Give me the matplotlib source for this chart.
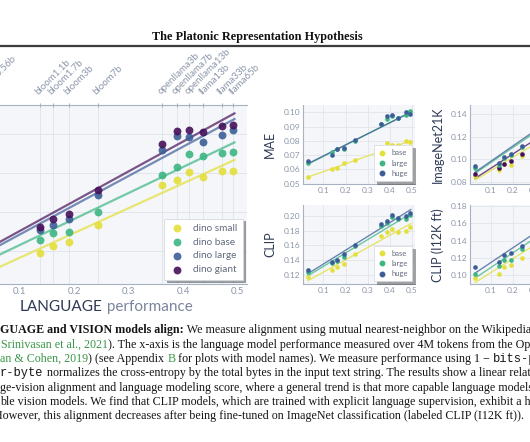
import numpy as np
import matplotlib
import matplotlib.pyplot as plt
from matplotlib.lines import Line2D
from matplotlib.text import Annotation

matplotlib.use('Agg')

W, H = 530, 442

# language models along the x axis (language performance)
lm_names = ['bloom0.56b', 'bloom1.1b', 'bloom1.7b', 'bloom3b', 'bloom7b',
            'openllama3b', 'openllama7b', 'openllama13b', 'llama13b', 'llama33b', 'llama65b']
lm_score = [0.03, 0.137, 0.161, 0.191, 0.243, 0.362, 0.388, 0.411, 0.437, 0.471, 0.492]
x_ticks = [0.1, 0.2, 0.3, 0.4, 0.5]

# trend lines are read at these two x positions
fit_x = [0.03, 0.494]

# big plot: dino alignment
dino_labels = ['dino small', 'dino base', 'dino large', 'dino giant']
dino_small = [0.090, 0.0991, 0.1026, 0.1046, 0.1132, 0.1337, 0.1366, 0.1404, 0.1381, 0.1412, 0.1409]
dino_base = [0.096, 0.1056, 0.1091, 0.1099, 0.1200, 0.1391, 0.1432, 0.1496, 0.1487, 0.1504, 0.1508]
dino_large = [0.100, 0.1108, 0.1133, 0.1163, 0.1287, 0.1518, 0.1588, 0.1586, 0.1559, 0.1596, 0.1622]
dino_giant = [0.102, 0.1122, 0.1164, 0.1188, 0.1313, 0.1550, 0.1617, 0.1621, 0.1609, 0.1643, 0.1646]
dino_small_fit = [0.0876, 0.1467]
dino_base_fit = [0.0937, 0.1557]
dino_large_fit = [0.0979, 0.1677]
dino_giant_fit = [0.0995, 0.1706]

# MAE
mae_base = [0.0550, 0.0601, 0.0613, 0.0643, 0.0664, 0.0745, 0.0787, 0.0771, 0.0769, 0.0800, 0.0792]
mae_large = [0.0645, 0.0724, 0.0740, 0.0745, 0.0800, 0.0915, 0.0951, 0.0975, 0.0960, 0.0983, 0.1009]
mae_huge = [0.0657, 0.0703, 0.0743, 0.0748, 0.0804, 0.0920, 0.0972, 0.0983, 0.0962, 0.1000, 0.0986]
mae_base_fit = [0.0546, 0.0801]
mae_large_fit = [0.0636, 0.1002]
mae_huge_fit = [0.0640, 0.1000]

# CLIP
clip_base = [0.1169, 0.1264, 0.1313, 0.1349, 0.1481, 0.1733, 0.1779, 0.1828, 0.1787, 0.1801, 0.1848]
clip_large = [0.1237, 0.1359, 0.1390, 0.1440, 0.1590, 0.1860, 0.1910, 0.1982, 0.1960, 0.1960, 0.2014]
clip_huge = [0.1268, 0.1376, 0.1403, 0.1485, 0.1607, 0.1892, 0.1936, 0.2018, 0.1977, 0.2004, 0.2045]
clip_base_fit = [0.1122, 0.1897]
clip_large_fit = [0.1189, 0.2033]
clip_huge_fit = [0.1217, 0.2087]

# ImageNet21K
in21k_tiny = [0.085, 0.090, 0.096, 0.095, 0.103, 0.118, 0.121, 0.124, 0.127, 0.130, 0.132]
in21k_small = [0.092, 0.095, 0.101, 0.104, 0.111, 0.129, 0.133, 0.136, 0.139, 0.143, 0.145]
in21k_base = [0.094, 0.097, 0.102, 0.105, 0.112, 0.131, 0.135, 0.138, 0.141, 0.145, 0.147]
in21k_large = [0.087, 0.092, 0.096, 0.098, 0.105, 0.122, 0.126, 0.128, 0.131, 0.135, 0.137]
in21k_tiny_fit = [0.0815, 0.1367]
in21k_small_fit = [0.0875, 0.150]
in21k_base_fit = [0.0885, 0.152]
in21k_large_fit = [0.083, 0.142]

# CLIP (I12K ft)
ft_base = [0.097, 0.1015, 0.1095, 0.1115, 0.1195, 0.145, 0.149, 0.152, 0.155, 0.160, 0.163]
ft_large = [0.102, 0.111, 0.118, 0.118, 0.1305, 0.154, 0.158, 0.161, 0.165, 0.170, 0.173]
ft_huge = [0.109, 0.115, 0.123, 0.126, 0.134, 0.160, 0.164, 0.167, 0.171, 0.176, 0.179]
ft_base_fit = [0.0917, 0.1664]
ft_large_fit = [0.0968, 0.176]
ft_huge_fit = [0.1025, 0.182]

YELLOW = '#e4df3a'
GREEN = '#3db682'
BLUE = '#3c5e98'
PURPLE = '#46105a'
BG = '#f4f6f9'
GRID = '#e1e5ec'
SPINE = '#a9b2c3'
TICK = '#8c96aa'
NAVY = '#2f3a56'

plt.rcParams['font.family'] = 'Lato'

fig = plt.figure(figsize=(W / 100, H / 100), dpi=100)


def px_axes(l, t, r, b):
    return fig.add_axes([l / W, 1 - b / H, (r - l) / W, (b - t) / H])


def style(ax, size):
    ax.set_facecolor(BG)
    ax.set_axisbelow(True)
    for s in ['top', 'right']:
        ax.spines[s].set_visible(False)
    for s in ['left', 'bottom']:
        ax.spines[s].set_color(SPINE)
        ax.spines[s].set_linewidth(0.8)
    ax.tick_params(length=0, labelsize=size, labelcolor=TICK, pad=2)
    ax.grid(True, color=GRID, lw=0.6)


def chain(first, pieces):
    # put each text piece right after the previous one
    prev = first
    for txt, kw in pieces:
        ann = Annotation(txt, xy=(1, 0), xycoords=prev, va='bottom', ha='left', **kw)
        fig.add_artist(ann)
        prev = ann
    return prev


# ---- big plot ----
ax = px_axes(-35, 105, 247, 284)
style(ax, 7)
ax.grid(False)
ax.set_xlim(0, 0.517)
ax.set_ylim(0.0831, 0.1749)
ax.set_xticks(x_ticks)
ax.set_xticklabels([str(t) for t in x_ticks])
ax.set_yticks([0.10, 0.12, 0.14, 0.16])
ax.tick_params(axis='y', labelleft=False)
ax.set_xticks(lm_score, minor=True)
ax.tick_params(which='minor', length=0)
ax.grid(True, axis='y', color=GRID, lw=0.7)
ax.grid(True, axis='x', which='minor', color=GRID, lw=0.7)
ax.spines['top'].set_visible(True)
ax.spines['top'].set_color(SPINE)
ax.spines['left'].set_visible(False)

for vals, fit, col, lab in zip([dino_small, dino_base, dino_large, dino_giant],
                               [dino_small_fit, dino_base_fit, dino_large_fit, dino_giant_fit],
                               [YELLOW, GREEN, BLUE, PURPLE], dino_labels):
    ax.plot(fit_x, fit, color=col, lw=1.6, alpha=0.7, zorder=2)
    ax.scatter(lm_score, vals, s=32, color=col, alpha=0.9, lw=0, label=lab, zorder=3)

leg = ax.legend(loc='lower right', fontsize=7.2, labelcolor='#626b7e', frameon=True,
                fancybox=False, shadow=True, borderpad=0.5, labelspacing=0.5,
                handletextpad=0.8, borderaxespad=0.45, handlelength=1.6)
leg.get_frame().set_edgecolor('#d3d8e0')
leg.get_frame().set_linewidth(0.6)

top = ax.twiny()
top.set_xlim(ax.get_xlim())
top.set_xticks(lm_score)
top.set_xticklabels(lm_names, rotation=45, ha='left', rotation_mode='anchor')
top.tick_params(axis='x', length=3, direction='inout', color=SPINE, labelsize=7,
                labelcolor=TICK, pad=5)
for s in top.spines.values():
    s.set_visible(False)

lang = fig.text(20 / W, 1 - 311 / H, 'LANGUAGE', fontsize=11, color=NAVY, va='baseline', ha='left')
chain(lang, [(' performance', dict(fontsize=11, color='#7a849c'))])


# ---- small plots ----
def small(l, t, r, b, ylim, yticks, ylabel, series, fits, colors):
    a = px_axes(l, t, r, b)
    style(a, 6)
    a.set_xlim(0.007, 0.513)
    a.set_ylim(*ylim)
    a.set_xticks(x_ticks)
    a.set_yticks(yticks)
    a.set_yticklabels(['%.2f' % v for v in yticks])
    a.set_ylabel(ylabel, fontsize=9, color=NAVY, labelpad=5)
    for vals, fit, col in zip(series, fits, colors):
        a.plot(fit_x, fit, color=col, lw=1.0, alpha=0.75, zorder=2)
        a.scatter(lm_score, vals, s=11, color=col, lw=0, zorder=3)
    return a


ax_mae = small(302.7, 105, 415, 184, (0.0498, 0.1051), [0.05, 0.06, 0.07, 0.08, 0.09, 0.10], 'MAE',
               [mae_large, mae_huge, mae_base], [mae_large_fit, mae_huge_fit, mae_base_fit],
               [GREEN, BLUE, YELLOW])
ax_clip = small(302.7, 205, 415, 284.3, (0.1074, 0.2149), [0.12, 0.14, 0.16, 0.18, 0.20], 'CLIP',
                [clip_base, clip_large, clip_huge], [clip_base_fit, clip_large_fit, clip_huge_fit],
                [YELLOW, GREEN, BLUE])
small(470, 105, 582.3, 184, (0.078, 0.1482), [0.08, 0.10, 0.12, 0.14], 'ImageNet21K',
      [in21k_tiny, in21k_large, in21k_small, in21k_base],
      [in21k_tiny_fit, in21k_large_fit, in21k_small_fit, in21k_base_fit],
      [YELLOW, PURPLE, GREEN, BLUE])
small(470, 205, 582.3, 284.3, (0.0896, 0.181), [0.10, 0.12, 0.14, 0.16, 0.18], 'CLIP (I12K ft)',
      [ft_base, ft_large, ft_huge], [ft_base_fit, ft_large_fit, ft_huge_fit],
      [YELLOW, GREEN, BLUE])

# legends of the two left small plots (base / large / huge)
for a in [ax_mae, ax_clip]:
    hs = [Line2D([], [], ls='', marker='o', ms=3.2, color=c) for c in [YELLOW, GREEN, BLUE]]
    lg = a.legend(hs, ['base', 'large', 'huge'], loc='lower right', fontsize=5.5,
                  labelcolor='#626b7e', frameon=True, fancybox=False, shadow=True,
                  borderpad=0.5, labelspacing=0.45, handletextpad=0.6, borderaxespad=0.4,
                  handlelength=1.2)
    lg.get_frame().set_edgecolor('#d3d8e0')
    lg.get_frame().set_linewidth(0.5)

# ---- page header ----
fig.text(257 / W, 1 - 37 / H, 'The Platonic Representation Hypothesis', family='Liberation Serif',
         weight='bold', fontsize=8.8, color='#111111', ha='center', va='center')
fig.add_artist(Line2D([0, 1], [1 - 46 / H, 1 - 46 / H], transform=fig.transFigure,
                      lw=1.6, color='#3c3c3c'))

# ---- caption ----
FS = 8.65
fonts = {
    'n': dict(family='Liberation Serif', color='#151515', fontsize=FS),
    'b': dict(family='Liberation Serif', color='#151515', weight='bold', fontsize=FS),
    'g': dict(family='Liberation Serif', color='#3a9848', fontsize=FS),
    'm': dict(family='Liberation Mono', color='#151515', fontsize=FS),
}
caption = [
    (0, [("GUAGE and VISION models align:", 'b'),
         (" We measure alignment using mutual nearest-neighbor on the Wikipedia", 'n')]),
    (1, [("Srinivasan et al., 2021", 'g'),
         ("). The x-axis is the language model performance measured over 4M tokens from the OpenWebText", 'n')]),
    (0, [("an & Cohen, 2019", 'g'), (") (see Appendix ", 'n'), ("B", 'g'),
         (" for plots with model names). We measure performance using 1 \u2212 ", 'n'), ("bits-pe", 'm')]),
    (0, [("r-byte", 'm'),
         (" normalizes the cross-entropy by the total bytes in the input text string. The results show a linear relationship", 'n')]),
    (0, [("ge-vision alignment and language modeling score, where a general trend is that more capable language models", 'n')]),
    (0, [("ble vision models. We find that CLIP models, which are trained with explicit language supervision, exhibit a higher", 'n')]),
    (-6, [("However, this alignment decreases after being fine-tuned on ImageNet classification (labeled CLIP (I12K ft)).", 'n')]),
]
base_y = 333.5
for i, (x0, segs) in enumerate(caption):
    y = base_y + i * 14.33
    txt0, kind0 = segs[0]
    first = fig.text(x0 / W, 1 - y / H, txt0, va='baseline', ha='left', **fonts[kind0])
    chain(first, [(t, fonts[k]) for t, k in segs[1:]])

fig.savefig('out.png', dpi=100)
